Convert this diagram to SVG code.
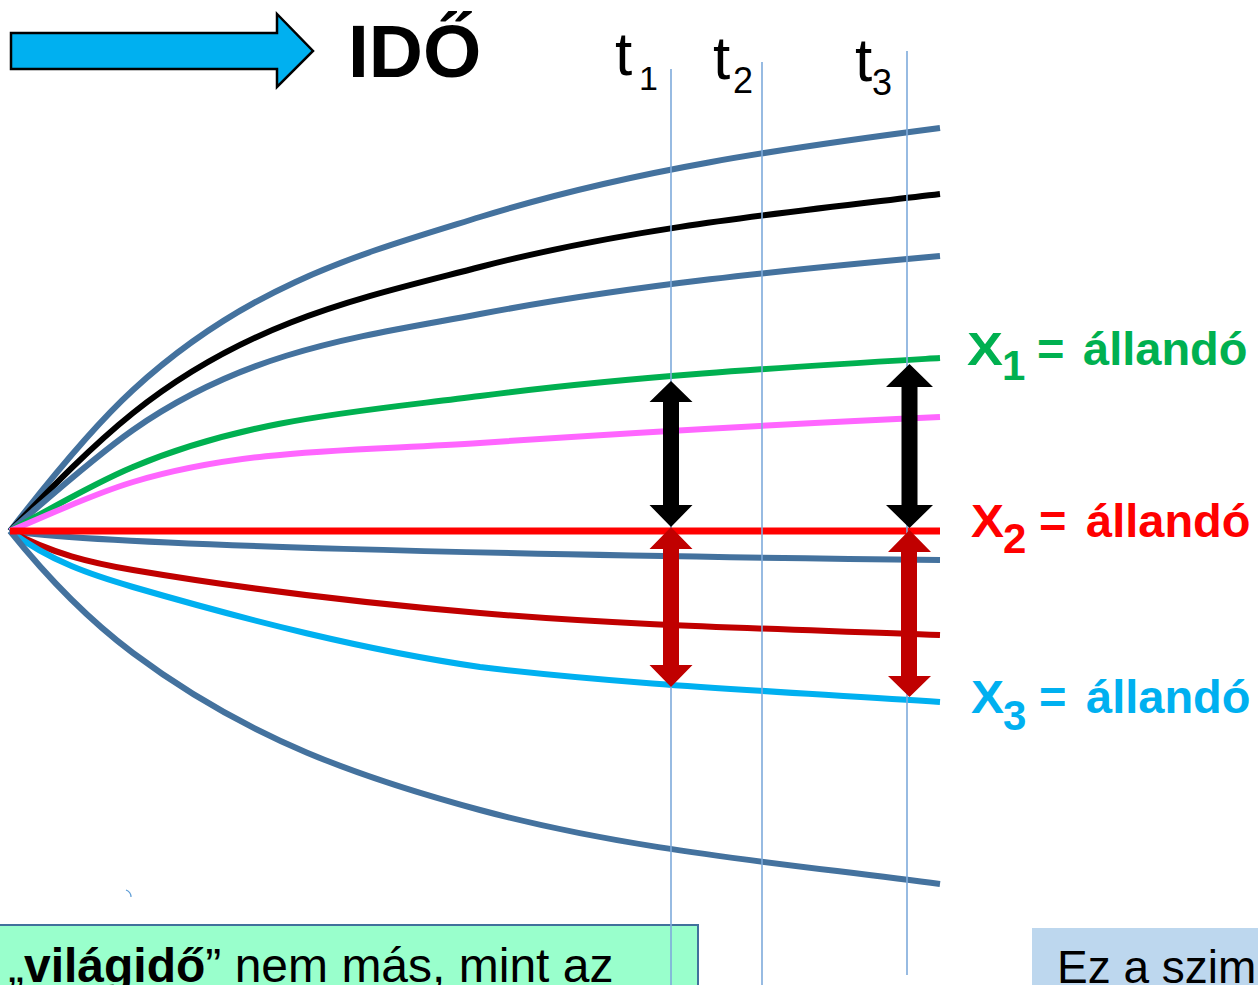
<svg xmlns="http://www.w3.org/2000/svg" width="1258" height="985" viewBox="0 0 1258 985">
<style>
  .c{fill:none;stroke-width:6;stroke-linecap:butt}
  .steel{stroke:#44729e}
  .tl{stroke:#7eaadb;stroke-width:1.6;fill:none}
  .sans{font-family:"Liberation Sans",Arial,sans-serif}
  .lbl{font-family:"Liberation Sans",Arial,sans-serif;font-weight:bold}
</style>
<rect width="1258" height="985" fill="#ffffff"/>

<g id="time-arrow">
  <polygon points="11,33 277,33 277,14 313,51 277,87 277,69 11,69" fill="#00b0f0" stroke="#000" stroke-width="2.5" stroke-linejoin="miter"/>
  <text x="348" y="77" class="lbl" font-size="75" fill="#000">IDŐ</text>
</g>

<g id="curves">
  <path class="c steel" d="M10,531 C51,478 92,427.7 133,390 C249,283.3 364,253 480,217 C633,169.6 787,147.9 940,128"/>
  <path class="c" stroke="#000" d="M10,531 C51,488 92,445.8 133,413 C249,320.2 364,297.2 480,267 C633,227.2 787,212.4 940,194"/>
  <path class="c steel" d="M10,531 C51,496 92,458.7 133,430 C249,348.8 364,336 480,314 C633,285 787,269.8 940,256"/>
  <path class="c" stroke="#00b050" d="M10,531 C51,508.5 92,484.2 133,467 C249,418.3 364,411 480,396 C633,376.1 787,367.2 940,358"/>
  <path class="c" stroke="#ff66ff" d="M10,531 C51,513.8 92,494.3 133,482 C249,447.2 364,451.1 480,443 C633,432.3 787,423.9 940,417"/>
  <path class="c steel" d="M10,531 C100,545 500,555 940,560"/>
  <path class="c" stroke="#c00000" d="M10,531 C51,553.5 92,563 133,570 C249,589.7 364,603.1 480,613 C633,626 787,628.9 940,635"/>
  <path class="c" stroke="#00b0f0" d="M10,531 C51,561.8 92,575.1 133,587 C249,620.6 364,650 480,667 C633,685.4 787,691.7 940,702"/>
  <path class="c steel" d="M10,531 C51,582 92,622.3 133,653 C249,740 364,778.7 480,810 C633,851.3 787,863.5 940,884"/>
  <line x1="10" y1="531" x2="940" y2="531" stroke="#ff0000" stroke-width="7"/>
</g>

<g id="box-left">
  <rect x="-2" y="925" width="700" height="70" fill="#99ffcc" stroke="#41719c" stroke-width="2"/>
  <text x="8" y="982" class="sans" font-size="48" fill="#000">„<tspan font-weight="bold">világidő</tspan>” nem más, mint az</text>
</g>

<g id="box-right">
  <rect x="1032" y="928" width="230" height="60" fill="#bdd7ee"/>
  <text x="1057" y="983" class="sans" font-size="46" fill="#000">Ez a szim</text>
</g>

<g id="time-lines">
  <line class="tl" x1="671" y1="69" x2="671" y2="985"/>
  <line class="tl" x1="762" y1="62" x2="762" y2="985"/>
  <line class="tl" x1="907" y1="51" x2="907" y2="975"/>
  <path d="M126,890 Q131,892 131,897" fill="none" stroke="#5b9bd5" stroke-width="1.2"/>
</g>

<g id="t-labels" class="sans" fill="#000">
  <text x="615" y="75" font-size="62">t</text>
  <text x="639" y="90" font-size="34">1</text>
  <text x="713" y="79" font-size="62">t</text>
  <text x="733" y="93" font-size="36">2</text>
  <text x="855" y="81" font-size="62">t</text>
  <text x="872" y="95" font-size="36">3</text>
</g>

<g id="double-arrows">
  <polygon fill="#000" points="671,381 692.5,402 679,402 679,505 692.5,505 671,527 649.5,505 663,505 663,402 649.5,402"/>
  <polygon fill="#000" points="909.5,364 933,387 917.5,387 917.5,505 933,505 909.5,528 886,505 901.5,505 901.5,387 886,387"/>
  <polygon fill="#c00000" points="671,527 692.5,549 679,549 679,665 692.5,665 671,687 649.5,665 663,665 663,549 649.5,549"/>
  <polygon fill="#c00000" points="909.5,530 931,552 917,552 917,676 931,676 909.5,697 888,676 901,676 901,552 888,552"/>
</g>

<g id="label-x1" class="lbl" fill="#00b050">
  <text x="967" y="365" font-size="46" textLength="36" lengthAdjust="spacingAndGlyphs">X</text>
  <text x="1002" y="380" font-size="42">1</text>
  <text x="1037" y="365" font-size="47">=</text>
  <text x="1083" y="365" font-size="47">állandó</text>
</g>
<g id="label-x2" class="lbl" fill="#ff0000">
  <text x="971" y="537" font-size="46" textLength="33" lengthAdjust="spacingAndGlyphs">X</text>
  <text x="1003" y="553" font-size="42">2</text>
  <text x="1039" y="537" font-size="47">=</text>
  <text x="1086" y="537" font-size="47">állandó</text>
</g>
<g id="label-x3" class="lbl" fill="#00b0f0">
  <text x="971" y="713" font-size="46" textLength="33" lengthAdjust="spacingAndGlyphs">X</text>
  <text x="1003" y="730" font-size="42">3</text>
  <text x="1039" y="713" font-size="47">=</text>
  <text x="1086" y="713" font-size="47">állandó</text>
</g>
</svg>
